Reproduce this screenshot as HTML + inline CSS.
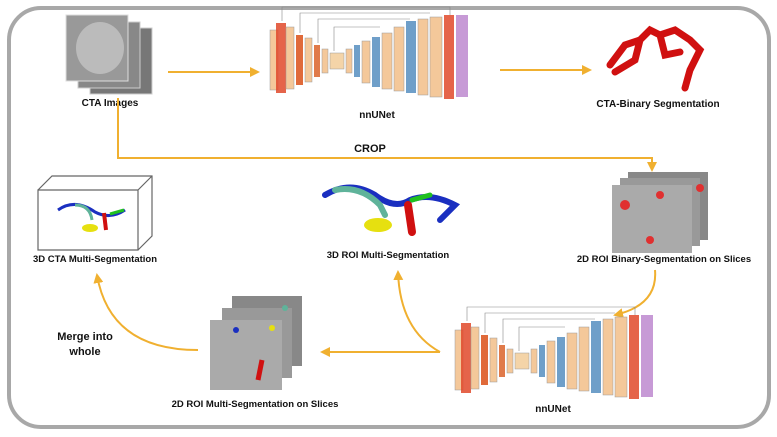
<!DOCTYPE html>
<html><head><meta charset="utf-8"><style>
body{margin:0;background:#fff;width:777px;height:437px;overflow:hidden;font-family:"Liberation Sans",sans-serif}
svg{display:block}
text{font-family:"Liberation Sans",sans-serif;font-weight:bold;fill:#111}
</style></head><body>
<svg width="777" height="437" viewBox="0 0 777 437">
<defs>
<marker id="ah" markerWidth="10" markerHeight="10" refX="8" refY="5" orient="auto" markerUnits="userSpaceOnUse"><path d="M0,0 L10,5 L0,10 z" fill="#f0b030"/></marker>
<g id="unet">
 <rect x="0" y="25" width="8" height="60" fill="#f4c89a" stroke="#999" stroke-width="0.5"/>
 <rect x="6" y="18" width="10" height="70" fill="#e0492a" opacity="0.85"/>
 <rect x="16" y="22" width="8" height="62" fill="#f4c89a" stroke="#999" stroke-width="0.5"/>
 <rect x="26" y="30" width="7" height="50" fill="#e06a3a"/>
 <rect x="35" y="33" width="7" height="44" fill="#f4c89a" stroke="#999" stroke-width="0.5"/>
 <rect x="44" y="40" width="6" height="32" fill="#e07a4a"/>
 <rect x="52" y="44" width="6" height="24" fill="#f4c89a" stroke="#999" stroke-width="0.5"/>
 <rect x="60" y="48" width="14" height="16" fill="#f4d4a8" stroke="#999" stroke-width="0.5"/>
 <rect x="76" y="44" width="6" height="24" fill="#f4c89a" stroke="#999" stroke-width="0.5"/>
 <rect x="84" y="40" width="6" height="32" fill="#6f9fc9"/>
 <rect x="92" y="36" width="8" height="42" fill="#f4c89a" stroke="#999" stroke-width="0.5"/>
 <rect x="102" y="32" width="8" height="50" fill="#6f9fc9"/>
 <rect x="112" y="28" width="10" height="56" fill="#f4c89a" stroke="#999" stroke-width="0.5"/>
 <rect x="124" y="22" width="10" height="64" fill="#f4c89a" stroke="#999" stroke-width="0.5"/>
 <rect x="136" y="16" width="10" height="72" fill="#6f9fc9"/>
 <rect x="148" y="14" width="10" height="76" fill="#f4c89a" stroke="#999" stroke-width="0.5"/>
 <rect x="160" y="12" width="12" height="80" fill="#f4c89a" stroke="#999" stroke-width="0.5"/>
 <rect x="174" y="10" width="10" height="84" fill="#e0492a" opacity="0.85"/>
 <rect x="186" y="10" width="12" height="82" fill="#c79ad6"/>
 <path d="M12,16 V2 H180 V10 M30,28 V8 H160 M48,38 V14 H140 M64,46 V22 H110" fill="none" stroke="#888" stroke-width="0.6"/>
</g>
</defs>
<rect x="9" y="8" width="760" height="419" rx="32" fill="none" stroke="#a8a8a8" stroke-width="4"/>

<g>
 <rect x="90" y="28" width="62" height="66" fill="#777" stroke="#ccc"/>
 <rect x="78" y="22" width="62" height="66" fill="#888" stroke="#ccc"/>
 <rect x="66" y="15" width="62" height="66" fill="#999" stroke="#ddd"/>
 <ellipse cx="100" cy="48" rx="24" ry="26" fill="#bbb"/>
</g>
<text x="110" y="106" font-size="10" text-anchor="middle">CTA Images</text>

<line x1="168" y1="72" x2="258" y2="72" stroke="#f0b030" stroke-width="2" marker-end="url(#ah)"/>
<use href="#unet" x="270" y="5"/>
<text x="377" y="118" font-size="10" text-anchor="middle">nnUNet</text>
<line x1="500" y1="70" x2="590" y2="70" stroke="#f0b030" stroke-width="2" marker-end="url(#ah)"/>

<path d="M610,65 L625,45 L640,40 L650,30 L660,35 L675,30 L690,40 L700,50 L690,70 L685,88 M640,40 L635,60 L615,72 M660,35 L665,55 L680,52" fill="none" stroke="#d01010" stroke-width="7" stroke-linecap="round"/>
<text x="658" y="107" font-size="10" text-anchor="middle">CTA-Binary Segmentation</text>

<path d="M118,98 V158 H652 V170" fill="none" stroke="#f0b030" stroke-width="2" marker-end="url(#ah)"/>
<text x="370" y="152" font-size="11" text-anchor="middle">CROP</text>

<g fill="none" stroke="#666" stroke-width="1.2">
 <path d="M38,190 H138 V250 H38 Z M38,190 L52,176 H152 V236 L138,250 M138,190 L152,176"/>
 <path d="M58,210 Q75,198 95,212 Q110,220 125,210" stroke="#1a2fc0" stroke-width="3"/>
 <path d="M75,205 Q90,205 92,220" stroke="#5fb39a" stroke-width="3"/>
 <ellipse cx="90" cy="228" rx="8" ry="4" fill="#e6e010" stroke="none"/>
 <path d="M104,213 L106,230" stroke="#d01010" stroke-width="4"/>
 <path d="M110,214 L124,210" stroke="#20c020" stroke-width="3"/>
</g>
<text x="95" y="262" font-size="9.5" text-anchor="middle">3D CTA Multi-Segmentation</text>

<g fill="none" stroke-linecap="round">
 <path d="M325,195 Q350,180 375,195 Q395,210 410,200 Q430,192 455,205 L440,220" stroke="#1a2fc0" stroke-width="6"/>
 <path d="M335,190 Q360,185 380,205 L385,215" stroke="#5fb39a" stroke-width="6"/>
 <ellipse cx="378" cy="225" rx="14" ry="7" fill="#e6e010" stroke="none"/>
 <path d="M408,205 L412,232" stroke="#d01010" stroke-width="8"/>
 <path d="M412,200 L430,195" stroke="#20c020" stroke-width="5"/>
</g>
<text x="388" y="258" font-size="9.5" text-anchor="middle">3D ROI Multi-Segmentation</text>

<g>
 <rect x="628" y="172" width="80" height="68" fill="#888"/>
 <rect x="620" y="178" width="80" height="68" fill="#999"/>
 <rect x="612" y="185" width="80" height="68" fill="#aaa"/>
 <circle cx="625" cy="205" r="5" fill="#e03030"/><circle cx="660" cy="195" r="4" fill="#e03030"/><circle cx="700" cy="188" r="4" fill="#e03030"/><circle cx="650" cy="240" r="4" fill="#e03030"/>
</g>
<text x="664" y="262" font-size="9.5" text-anchor="middle">2D ROI Binary-Segmentation on Slices</text>

<path d="M655,270 Q658,305 615,315" fill="none" stroke="#f0b030" stroke-width="2" marker-end="url(#ah)"/>
<use href="#unet" x="455" y="305"/>
<text x="553" y="412" font-size="10" text-anchor="middle">nnUNet</text>

<line x1="440" y1="352" x2="322" y2="352" stroke="#f0b030" stroke-width="2" marker-end="url(#ah)"/>
<path d="M440,352 Q400,330 398,272" fill="none" stroke="#f0b030" stroke-width="2" marker-end="url(#ah)"/>

<g>
 <rect x="232" y="296" width="70" height="70" fill="#888"/>
 <rect x="222" y="308" width="70" height="70" fill="#999"/>
 <rect x="210" y="320" width="72" height="70" fill="#aaa"/>
 <circle cx="285" cy="308" r="3" fill="#5fb39a"/><circle cx="272" cy="328" r="3" fill="#e6e010"/><circle cx="236" cy="330" r="3" fill="#1a2fc0"/>
 <path d="M262,360 L258,380" stroke="#d01010" stroke-width="5"/>
</g>
<text x="255" y="407" font-size="9.5" text-anchor="middle">2D ROI Multi-Segmentation on Slices</text>

<path d="M198,350 Q110,350 97,275" fill="none" stroke="#f0b030" stroke-width="2" marker-end="url(#ah)"/>
<text x="85" y="340" font-size="11" text-anchor="middle">Merge into</text>
<text x="85" y="355" font-size="11" text-anchor="middle">whole</text>
</svg>
</body></html>
